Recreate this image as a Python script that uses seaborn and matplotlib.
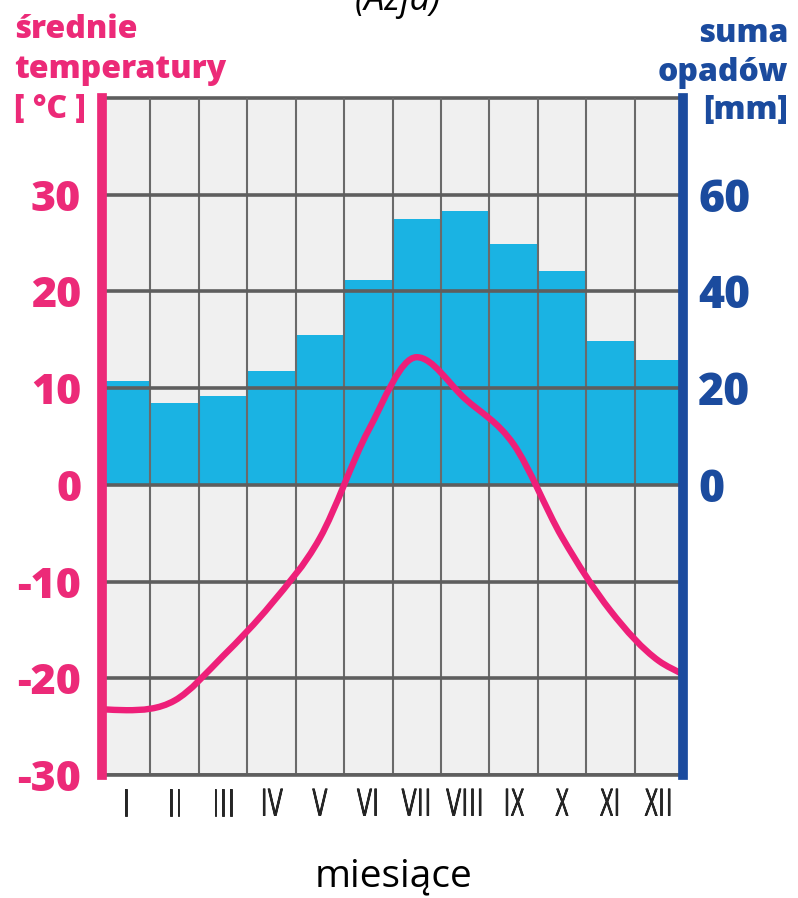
import numpy as np
import pandas as pd
import matplotlib
matplotlib.use("Agg")
import matplotlib.pyplot as plt
import matplotlib.patheffects as pe
from matplotlib.path import Path
from matplotlib.patches import PathPatch
import seaborn as sns

# ---------------------------------------------------------------
# data (Azja)
# ---------------------------------------------------------------
months = ["I", "II", "III", "IV", "V", "VI", "VII", "VIII", "IX", "X", "XI", "XII"]
precip_mm = [21.4, 17.0, 18.4, 23.6, 31.0, 42.4, 54.9, 56.7, 49.8, 44.3, 29.8, 25.8]
temp_c = [-23.3, -22.3, -17.7, -12.3, -5.5, 5.6, 13.2, 8.9, 4.2, -5.4, -13.0, -18.2]
temp_edges = [-23.2, -19.6]   # curve value at start of Jan / end of Dec

temp_ticks = [-30, -20, -10, 0, 10, 20, 30]
precip_ticks = [0, 20, 40, 60]

PINK = "#ec2a78"
BLUE = "#1b4b9e"
BAR = "#1ab3e3"
GRID = "#5e5e5e"
BG = "#f0f0f0"
HEAVY = "heavy"

sns.set_style("white")
plt.rcParams["font.family"] = ["Open Sans", "DejaVu Sans"]
plt.rcParams["axes.unicode_minus"] = False

fig = plt.figure(figsize=(7.98, 8.98), dpi=100)
ax = fig.add_axes([102 / 798, 1 - 775 / 898, (683 - 102) / 798, (775 - 98) / 898])
ax2 = ax.twinx()

# precipitation axis sits behind, temperature axis in front
ax.set_zorder(2)
ax2.set_zorder(1)
ax.patch.set_visible(False)
ax2.patch.set_visible(True)
ax2.set_facecolor(BG)

df = pd.DataFrame({"month": months, "precip": precip_mm})
sns.barplot(data=df, x="month", y="precip", ax=ax2, color=BAR, saturation=1,
            width=1.0, edgecolor="none", linewidth=0)
ax2.set_ylim(-60, 80)
ax2.set_yticks(precip_ticks)
ax2.set_ylabel("")
ax2.set_xlabel("")
ax2.tick_params(axis="y", length=0, pad=11, labelsize=32, labelcolor=BLUE)
for lbl in ax2.get_yticklabels():
    lbl.set_fontweight(HEAVY)
for s in ax2.spines.values():
    s.set_visible(False)

# temperature axis
ax.set_xlim(-0.5, 11.5)
ax.set_ylim(-30, 40)
ax.set_yticks(temp_ticks)
ax.set_xticks(range(12))
ax.set_xticklabels(months)
ax.set_xticks(np.arange(-0.5, 12, 1), minor=True)
ax.tick_params(axis="y", length=0, pad=15, labelsize=31, labelcolor=PINK)
ax.tick_params(axis="x", which="both", length=0, pad=8, labelsize=27)
for lbl in ax.get_xticklabels():
    lbl.set_family(["Noto Sans ExtraCondensed", "Open Sans", "DejaVu Sans"])
    lbl.set_fontstretch("condensed")
    lbl.set_path_effects([pe.withStroke(linewidth=0.5, foreground="black")])
for lbl in ax.get_yticklabels():
    lbl.set_fontweight(HEAVY)

ax.grid(axis="y", which="major", color=GRID, linewidth=2.6)
ax.grid(axis="x", which="minor", color="#6a6a6a", linewidth=1.5)
ax.grid(axis="x", which="major", visible=False)
ax.set_axisbelow(False)

ax.spines["left"].set_color(PINK)
ax.spines["left"].set_linewidth(7)
ax.spines["right"].set_color(BLUE)
ax.spines["right"].set_linewidth(7)
ax.spines["top"].set_color(GRID)
ax.spines["top"].set_linewidth(2.6)
ax.spines["bottom"].set_color(GRID)
ax.spines["bottom"].set_linewidth(2.6)
for side in ["left", "right"]:
    ax.spines[side].set_capstyle("projecting")
    ax.spines[side].set_zorder(5)

# smooth temperature curve: cubic Hermite through the monthly values
# (three-point tangents, flat at the extremes), drawn as Bezier segments
xs = np.array([-0.5] + list(range(12)) + [11.5], dtype=float)
ys = np.array([temp_edges[0]] + temp_c + [temp_edges[1]], dtype=float)
n = len(xs)
h = np.diff(xs)
d = np.diff(ys) / h
m = np.zeros(n)
m[0], m[-1] = d[0], d[-1]
for k in range(1, n - 1):
    if d[k - 1] * d[k] > 0:
        m[k] = (d[k - 1] * h[k] + d[k] * h[k - 1]) / (h[k - 1] + h[k])

verts = [(xs[0], ys[0])]
codes = [Path.MOVETO]
for i in range(n - 1):
    dx = h[i]
    verts += [(xs[i] + dx / 3, ys[i] + m[i] * dx / 3),
              (xs[i + 1] - dx / 3, ys[i + 1] - m[i + 1] * dx / 3),
              (xs[i + 1], ys[i + 1])]
    codes += [Path.CURVE4] * 3
ax.add_patch(PathPatch(Path(verts, codes), facecolor="none", edgecolor="#ee1f79",
                       linewidth=4.6, capstyle="round", zorder=4))

# axis captions
def fy(px):
    return 1 - px / 898

cap = dict(fontsize=23, fontweight=HEAVY, va="baseline")
fig.text(14 / 798, fy(38), "średnie", color=PINK, **cap)
fig.text(14 / 798, fy(78), "temperatury", color=PINK, **cap)
fig.text(14 / 798, fy(118), "[ °C ]", color=PINK, **cap)

fig.text(788 / 798, fy(42), "suma", color=BLUE, ha="right", **cap)
fig.text(788 / 798, fy(81), "opadów", color=BLUE, ha="right", **cap)
fig.text(788 / 798, fy(119), "[mm]", color=BLUE, ha="right", **cap)

fig.text(398 / 798, fy(10), "(Azja)", color="black", fontsize=26, style="italic", va="baseline", ha="center")
fig.text(393 / 798, fy(886), "miesiące", color="black", fontsize=28, va="baseline", ha="center")

fig.savefig("out.png", dpi=100, facecolor="white")
